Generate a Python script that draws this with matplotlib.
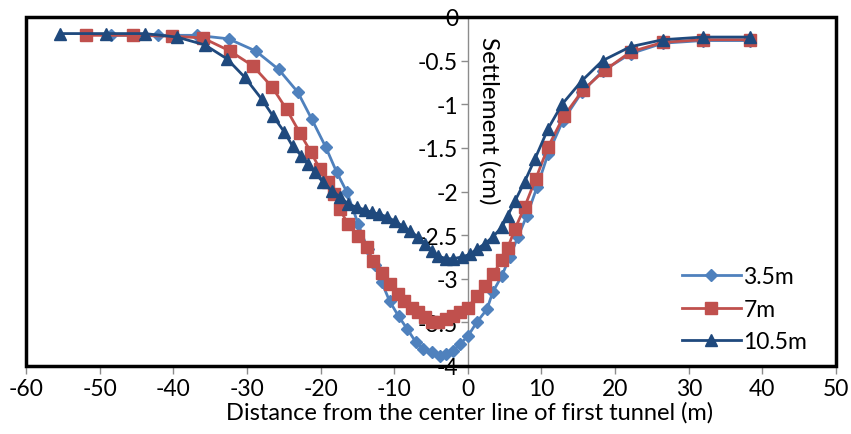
import matplotlib.pyplot as plt
from matplotlib.patches import Rectangle

plt.rcParams['font.family'] = ['Lato', 'DejaVu Sans']
plt.rcParams['axes.unicode_minus'] = False

# 3.5m depth (light blue diamonds)
x_35 = [-48.4, -42.1, -36.8, -32.5, -28.8, -25.7, -23.1, -21.2, -19.3, -17.8,
        -16.4, -14.9, -13.6, -12.6, -11.7, -10.6, -9.4, -8.2, -7.1, -6.1,
        -4.9, -3.8, -2.9, -2.0, -1.1, 0.0, 1.2, 2.6, 3.4, 4.6,
        5.7, 6.8, 8.0, 9.4, 10.9, 12.9, 15.5, 18.3, 22.1, 26.5, 31.9, 38.3]
y_35 = [-0.21, -0.21, -0.21, -0.25, -0.39, -0.60, -0.86, -1.17, -1.49, -1.78,
        -2.01, -2.37, -2.66, -2.84, -3.04, -3.26, -3.43, -3.58, -3.72, -3.80,
        -3.84, -3.88, -3.86, -3.83, -3.75, -3.66, -3.50, -3.35, -3.15, -2.97,
        -2.75, -2.52, -2.28, -1.95, -1.57, -1.19, -0.86, -0.62, -0.42, -0.30, -0.27, -0.27]

# 7m depth (red squares)
x_7 = [-51.9, -45.5, -40.2, -36.0, -32.3, -29.2, -26.6, -24.6, -22.8, -21.3,
       -20.1, -19.0, -18.2, -17.4, -16.3, -14.9, -13.7, -12.9, -11.7, -10.6,
       -9.5, -8.6, -7.6, -6.8, -5.8, -4.9, -4.1, -2.9, -2.0, -1.1,
       0.0, 1.2, 2.3, 3.4, 4.6, 5.4, 6.4, 7.7, 9.2, 10.9,
       13.0, 15.6, 18.6, 22.1, 26.5, 31.9, 38.3]
y_7 = [-0.21, -0.21, -0.22, -0.24, -0.39, -0.56, -0.80, -1.06, -1.33, -1.55,
       -1.74, -1.89, -2.03, -2.20, -2.37, -2.51, -2.64, -2.80, -2.93, -3.06,
       -3.18, -3.26, -3.33, -3.38, -3.44, -3.49, -3.50, -3.46, -3.43, -3.38,
       -3.33, -3.20, -3.08, -2.95, -2.79, -2.65, -2.43, -2.18, -1.86, -1.49,
       -1.14, -0.84, -0.61, -0.40, -0.29, -0.26, -0.26]

# 10.5m depth (dark blue triangles)
x_105 = [-55.4, -49.2, -43.9, -39.5, -35.7, -32.7, -30.3, -28.0, -26.5, -24.9,
         -23.8, -22.6, -21.7, -20.8, -19.7, -18.5, -17.4, -16.3, -15.1, -14.0,
         -13.0, -12.0, -11.0, -9.9, -8.8, -7.9, -6.8, -5.8, -4.9, -4.1,
         -2.9, -2.0, -0.8, 0.3, 1.2, 2.3, 3.4, 4.6, 5.4, 6.4,
         7.7, 9.1, 10.9, 12.8, 15.5, 18.3, 22.1, 26.5, 31.9, 38.3]
y_105 = [-0.19, -0.19, -0.19, -0.23, -0.32, -0.48, -0.69, -0.94, -1.13, -1.32,
         -1.48, -1.59, -1.69, -1.78, -1.89, -1.99, -2.06, -2.14, -2.18, -2.21,
         -2.24, -2.26, -2.29, -2.34, -2.40, -2.45, -2.52, -2.60, -2.68, -2.74,
         -2.77, -2.77, -2.75, -2.72, -2.66, -2.60, -2.52, -2.41, -2.28, -2.11,
         -1.89, -1.63, -1.28, -1.00, -0.73, -0.50, -0.34, -0.26, -0.23, -0.23]

x_ticks = [-60, -50, -40, -30, -20, -10, 0, 10, 20, 30, 40, 50]
y_ticks = [0, -0.5, -1, -1.5, -2, -2.5, -3, -3.5, -4]
y_tick_labels = ['0', '-0.5', '-1', '-1.5', '-2', '-2.5', '-3', '-3.5', '-4']

fig = plt.figure(figsize=(8.51, 4.35), dpi=100)
ax = fig.add_axes([26 / 851, 1 - 367 / 435, 810 / 851, 349 / 435])

ax.plot(x_35, y_35, color='#4F81BD', lw=2, marker='D', ms=6, label='3.5m', zorder=3)
ax.plot(x_7, y_7, color='#C0504D', lw=2, marker='s', ms=8, label='7m', zorder=4)
ax.plot(x_105, y_105, color='#1F497D', lw=2, marker='^', ms=9, label='10.5m', zorder=5)

ax.set_xlim(-60, 50)
ax.set_ylim(-4, 0)
ax.set_xticks(x_ticks)
ax.set_yticks(y_ticks)
ax.set_yticklabels(y_tick_labels)

# y axis runs through x = 0 as a thin grey line
ax.spines['left'].set_position(('data', 0))
ax.spines['left'].set_color('#8c8c8c')
ax.spines['left'].set_linewidth(1)
for s in ['top', 'right', 'bottom']:
    ax.spines[s].set_visible(False)

# heavy black frame round the plot area
ax.add_patch(Rectangle((0, 0), 1, 1, transform=ax.transAxes, fill=False,
                       lw=2.5, edgecolor='black', clip_on=False, zorder=10))

ax.tick_params(axis='x', direction='out', length=6, width=1, color='#8c8c8c',
               labelsize=16.5, pad=3)
ax.tick_params(axis='y', direction='out', length=5, width=1, color='#8c8c8c',
               labelsize=16.5, pad=2)

ax.set_xlabel('Distance from the center line of first tunnel (m)', fontsize=17, labelpad=0)
ax.xaxis.set_label_coords(0.548, -0.1)
ax.text(1.5, -0.22, 'Settlement (cm)', rotation=-90, fontsize=17.5,
        ha='left', va='top')

ax.legend(loc='lower right', frameon=False, fontsize=16.5, handlelength=2.6,
          handletextpad=0.1, labelspacing=0.5, bbox_to_anchor=(0.99, -0.02))

fig.savefig('out.png', dpi=100)
